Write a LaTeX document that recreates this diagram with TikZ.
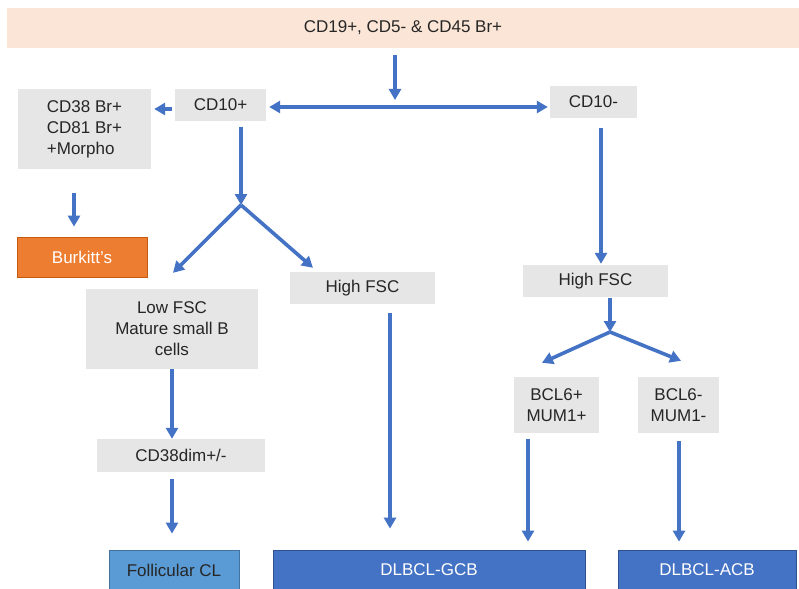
\documentclass[tikz,border=0pt]{standalone}
\usepackage{fontspec}
\setmainfont{Liberation Sans}
\usetikzlibrary{arrows.meta}
\definecolor{arrblue}{HTML}{4472C4}
\definecolor{boxgray}{HTML}{E7E6E6}
\definecolor{peach}{HTML}{FBE5D6}
\definecolor{orangebox}{HTML}{ED7D31}
\definecolor{orangeline}{HTML}{C55A11}
\definecolor{lightblue}{HTML}{5B9BD5}
\definecolor{lightblueline}{HTML}{41719C}
\definecolor{darkblueline}{HTML}{2F528F}
\definecolor{txt}{HTML}{262626}
\tikzset{
  base/.style={inner sep=0pt, font=\fontsize{17}{21}\selectfont, text=txt, align=center},
  graybox/.style={base, fill=boxgray},
  arr/.style={draw=arrblue, line width=3.6pt, -{Triangle[width=12pt,length=11pt]}},
  arrtwo/.style={draw=arrblue, line width=3.6pt, {Triangle[width=12pt,length=11pt]}-{Triangle[width=12pt,length=11pt]}},
}
\begin{document}
\begin{tikzpicture}[x=1pt,y=-1pt]
\clip (0,0) rectangle (799,588);
\fill[white] (0,0) rectangle (799,588);
% boxes
\node[base, fill=peach, minimum width=792pt, minimum height=40pt] (top) at (403,28) {CD19+, CD5- \& CD45 Br+};
\node[graybox, minimum width=91pt, minimum height=32pt] (cd10p) at (220.5,105) {CD10+};
\node[graybox, minimum width=87pt, minimum height=32pt] (cd10m) at (593.5,102) {CD10-};
\node[graybox, align=left, minimum width=133pt, minimum height=80pt] (cd38) at (84.5,129) {CD38 Br+\\CD81 Br+\\+Morpho};
\node[base, fill=orangebox, draw=orangeline, line width=0.8pt, text=white, minimum width=130pt, minimum height=40pt] (burk) at (82,257) {Burkitt's};
\node[graybox, minimum width=145pt, minimum height=32pt] (hfl) at (362.5,288) {High FSC};
\node[graybox, minimum width=172pt, minimum height=80pt] (lowfsc) at (172,329) {Low FSC\\Mature small B\\cells};
\node[graybox, minimum width=168pt, minimum height=33pt] (cd38dim) at (181,455.5) {CD38dim+/-};
\node[base, fill=lightblue, draw=lightblueline, line width=0.8pt, minimum width=130pt, minimum height=40pt] (foll) at (174,570) {Follicular CL};
\node[base, fill=arrblue, draw=darkblueline, line width=0.8pt, text=white, minimum width=312pt, minimum height=40pt] (gcb) at (429,570) {DLBCL-GCB};
\node[base, fill=arrblue, draw=darkblueline, line width=0.8pt, text=white, minimum width=178pt, minimum height=40pt] (acb) at (707,570) {DLBCL-ACB};
\node[graybox, minimum width=145pt, minimum height=32pt] (hfr) at (595.5,281) {High FSC};
\node[graybox, minimum width=85pt, minimum height=56pt] (bclp) at (556.5,405) {BCL6+\\MUM1+};
\node[graybox, minimum width=81pt, minimum height=56pt] (bclm) at (678.5,405) {BCL6-\\MUM1-};
% junction points
\coordinate (j1) at (395,107);
\coordinate (s1) at (241,205);
\coordinate (s2) at (610,332);
% connectors
\draw[arr, shorten <=7pt, shorten >=7pt] (395,0 |- top.south) -- (j1);
\draw[arrtwo, shorten <=3pt, shorten >=2pt] (cd10p.east |- j1) -- (cd10m.west |- j1);
\draw[arr, shorten <=3pt, shorten >=3pt] (cd10p.west |- 0,109) -- (cd38.east |- 0,109);
\draw[arr, shorten <=24pt, shorten >=10pt] (74,0 |- cd38.south) -- (74,0 |- burk.north);
\draw[arr, shorten <=6pt] (s1 |- cd10p.south) -- (s1);
\draw[arr] (s1) -- ([xshift=1pt,yshift=16pt]lowfsc.north);
\draw[arr] (s1) -- ([xshift=-49.5pt,yshift=4pt]hfl.north);
\draw[arr] (lowfsc.south) -- (lowfsc.south |- cd38dim.north);
\draw[arr, shorten <=7pt, shorten >=16pt] (172,0 |- cd38dim.south) -- (172,0 |- foll.north);
\draw[arr, shorten <=9pt, shorten >=21pt] (390,0 |- hfl.south) -- (390,0 |- gcb.north);
\draw[arr, shorten <=10pt, shorten >=1pt] (601,0 |- cd10m.south) -- (601,0 |- hfr.north);
\draw[arr, shorten <=1pt] (s2 |- hfr.south) -- (s2);
\draw[arr] (s2) -- ([xshift=-14.5pt,yshift=14pt]bclp.north);
\draw[arr] (s2) -- ([xshift=2.5pt,yshift=16pt]bclm.north);
\draw[arr, shorten <=6pt, shorten >=8pt] (528,0 |- bclp.south) -- (528,0 |- gcb.north);
\draw[arr, shorten <=8pt, shorten >=8pt] (679,0 |- bclm.south) -- (679,0 |- acb.north);
\end{tikzpicture}
\end{document}
